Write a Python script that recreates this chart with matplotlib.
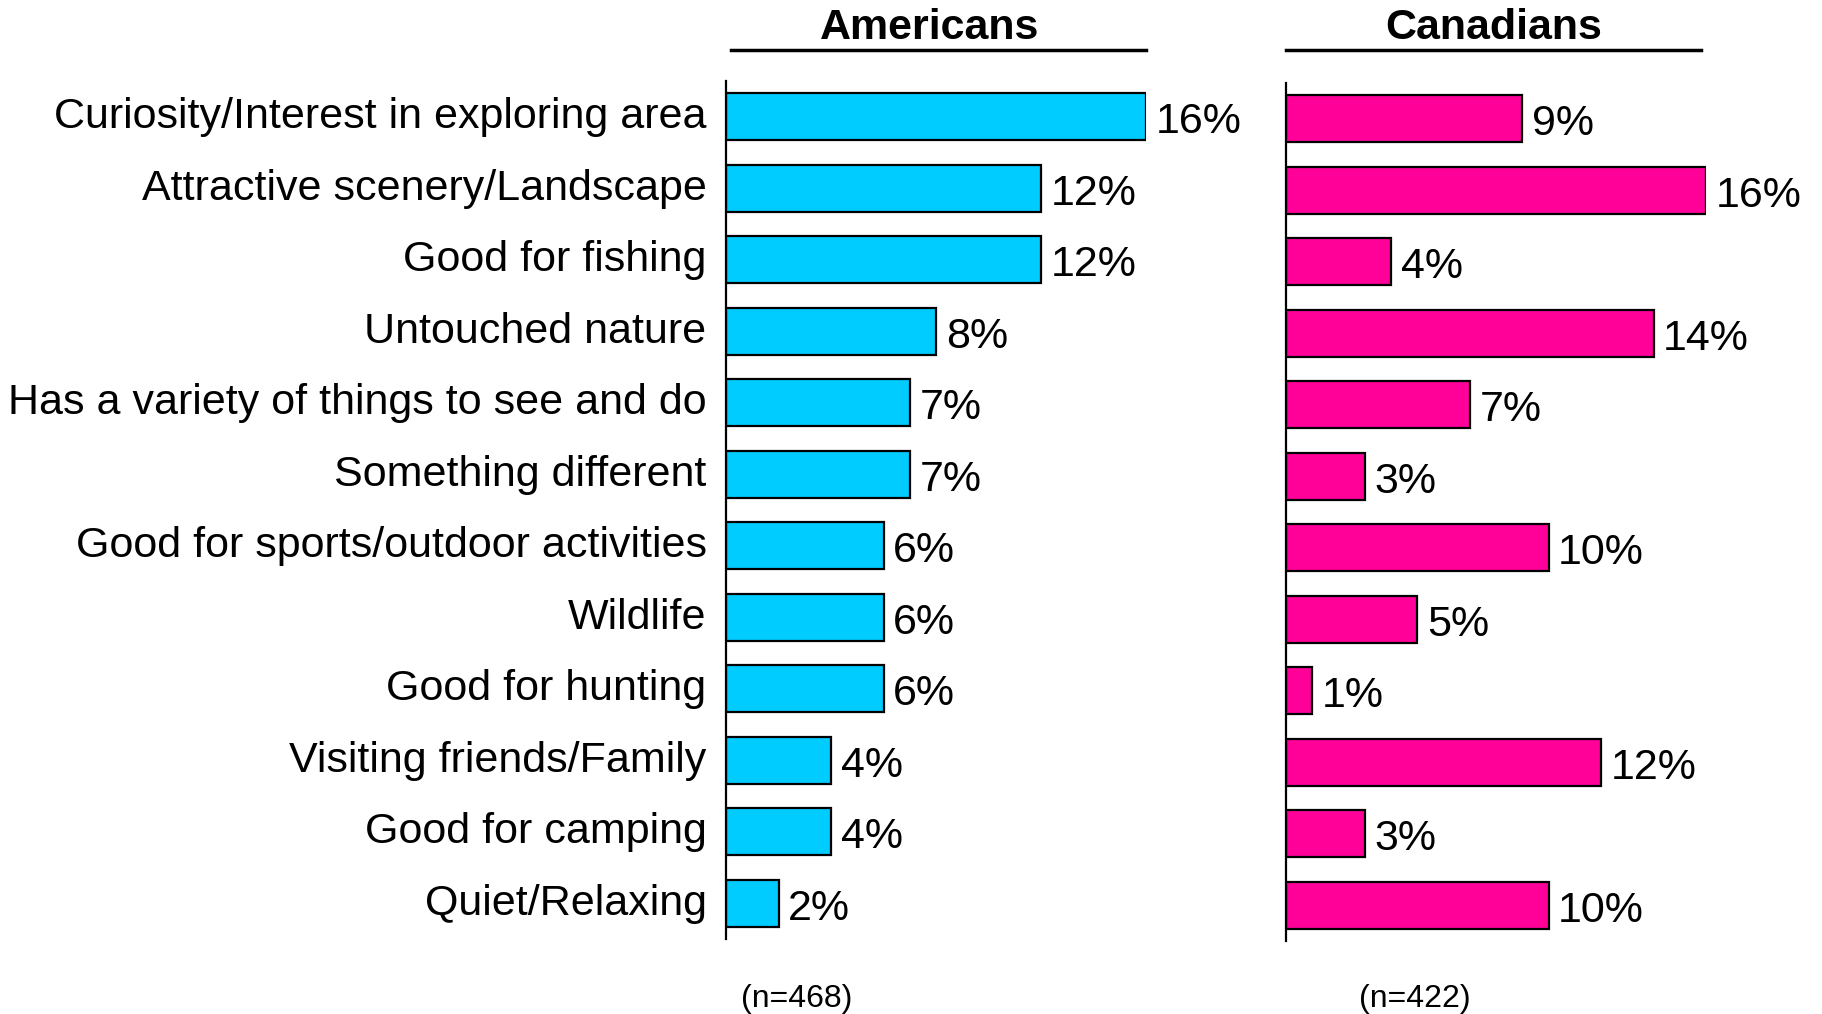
import matplotlib
matplotlib.use("Agg")
import matplotlib.pyplot as plt
from matplotlib.lines import Line2D
from matplotlib.transforms import ScaledTranslation

categories = [
    "Curiosity/Interest in exploring area",
    "Attractive scenery/Landscape",
    "Good for fishing",
    "Untouched nature",
    "Has a variety of things to see and do",
    "Something different",
    "Good for sports/outdoor activities",
    "Wildlife",
    "Good for hunting",
    "Visiting friends/Family",
    "Good for camping",
    "Quiet/Relaxing",
]
americans = [16, 12, 12, 8, 7, 7, 6, 6, 6, 4, 4, 2]
canadians = [9, 16, 4, 14, 7, 3, 10, 5, 1, 12, 3, 10]
group_titles = ["Americans", "Canadians"]
sample_sizes = ["(n=468)", "(n=422)"]

plt.rcParams['font.family'] = ['Liberation Sans', 'DejaVu Sans']

W, H = 1822, 1014
fig = plt.figure(figsize=(W / 100, H / 100), dpi=100)

def frac(x0, y0, w, h):
    return [x0 / W, 1 - (y0 + h) / H, w / W, h / H]

ax_a = fig.add_axes(frac(726, 81, 420, 858))
ax_c = fig.add_axes(frac(1286, 83, 420, 858))

colors = ["#00CCFF", "#FF0099"]
ypos = list(range(len(categories)))

for ax, vals, col in [(ax_a, americans, colors[0]), (ax_c, canadians, colors[1])]:
    ax.barh(ypos, vals, height=0.66, color=col, edgecolor="black", linewidth=1.6)
    ax.set_xlim(0, 16)
    ax.set_ylim(len(categories) - 0.5, -0.5)
    for s in ["top", "right", "bottom"]:
        ax.spines[s].set_visible(False)
    ax.spines["left"].set_linewidth(1.6)
    ax.set_xticks([])
    for y, v in zip(ypos, vals):
        ax.annotate(f"{v}%", (v, y), xytext=(7, -4), textcoords="offset points",
                    ha="left", va="center", fontsize=31)
    ax.set_facecolor("none")

ax_a.set_yticks(ypos)
ax_a.set_yticklabels(categories, fontsize=31)
ax_a.tick_params(axis="y", length=0, pad=14)
shift = ScaledTranslation(0, 4 / 100, fig.dpi_scale_trans)
for lbl in ax_a.get_yticklabels():
    lbl.set_transform(lbl.get_transform() + shift)
ax_c.set_yticks([])

# Titles with underline
for title, cx, x0, x1 in [(group_titles[0], 930, 731, 1146), (group_titles[1], 1494, 1286, 1701)]:
    fig.text(cx / W, 1 - 28 / H, title, ha="center", va="center", fontsize=31, fontweight="bold")
    fig.add_artist(Line2D([x0 / W, x1 / W], [1 - 50 / H, 1 - 50 / H], color="black", linewidth=2.5))

for txt, cx in zip(sample_sizes, [797, 1415]):
    fig.text(cx / W, 1 - 999 / H, txt, ha="center", va="center", fontsize=23)

fig.savefig("out.png", dpi=100, facecolor="white")
